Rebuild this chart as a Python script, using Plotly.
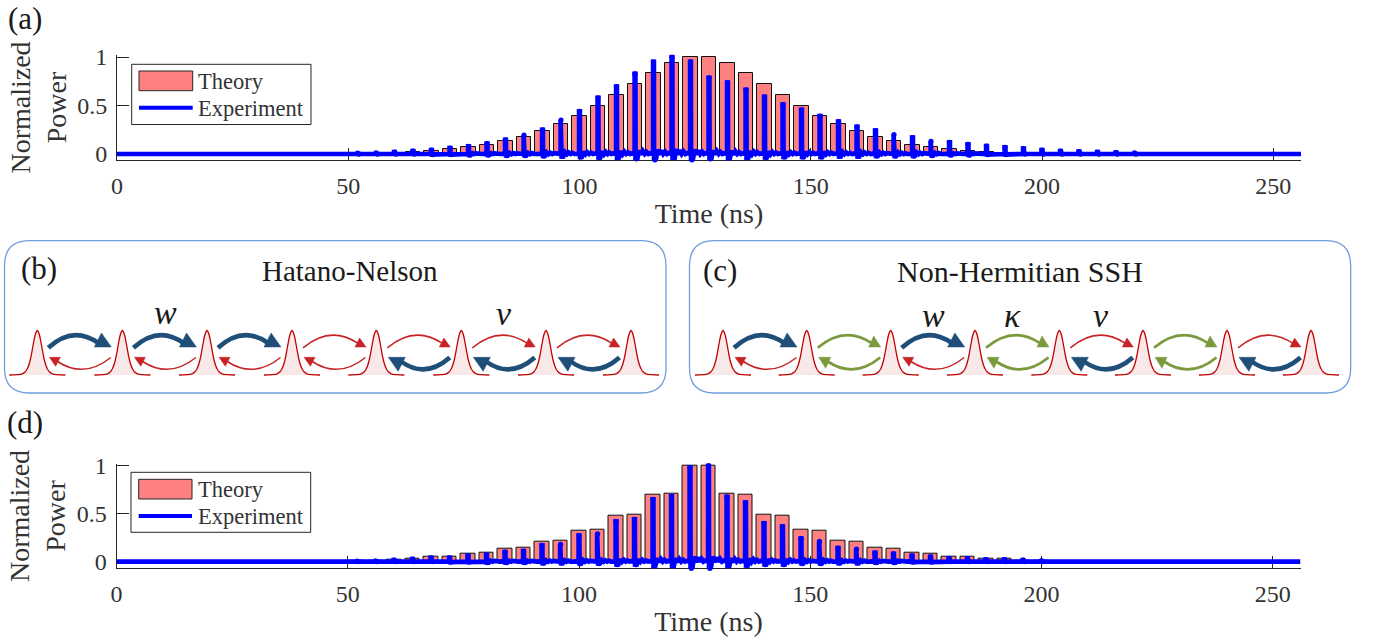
import plotly.graph_objects as go

W, H = 1377, 644
SERIF = "Liberation Serif"
TXT = "#333333"

# ---------- panel (a) data ----------
a_times = [52, 56, 60, 64, 68, 72, 76, 80, 84, 88, 92, 96, 100, 104, 108, 112, 116, 120, 124, 128,
           132, 136, 140, 144, 148, 152, 156, 160, 164, 168, 172, 176, 180, 184, 188, 192, 196,
           200, 204, 208, 212, 216, 220]
a_theory = [0.006, 0.01, 0.015, 0.024, 0.034, 0.048, 0.069, 0.096, 0.13, 0.18, 0.234, 0.306, 0.39, 0.49, 0.605, 0.725, 0.84, 0.94, 1.0, 1.0,
            0.94, 0.84, 0.725, 0.605, 0.49, 0.39, 0.306, 0.234, 0.18, 0.13, 0.096, 0.069, 0.048, 0.034, 0.024, 0.015, 0.01,
            0.006, 0.0, 0.0, 0.0, 0.0, 0.0]
a_peak = [0.008, 0.012, 0.02, 0.03, 0.04, 0.06, 0.08, 0.107, 0.145, 0.196, 0.25, 0.35, 0.44, 0.58, 0.695, 0.825, 0.95, 1.0, 0.95, 0.785,
          0.735, 0.66, 0.59, 0.51, 0.455, 0.39, 0.335, 0.28, 0.24, 0.2, 0.17, 0.13, 0.12, 0.10, 0.082, 0.068, 0.055,
          0.04, 0.03, 0.025, 0.02, 0.015, 0.012]
a_dip = [0.0, 0.0, 0.0, 0.0, 0.005, 0.005, 0.01, 0.01, 0.015, 0.015, 0.02, 0.025, 0.03, 0.035, 0.04, 0.05, 0.06, 0.065, 0.06, 0.05,
         0.045, 0.04, 0.035, 0.03, 0.03, 0.03, 0.025, 0.025, 0.02, 0.02, 0.02, 0.015, 0.01, 0.01, 0.005, 0.005, 0.0,
         0.0, 0.0, 0.0, 0.0, 0.0, 0.0]

# ---------- panel (d) data ----------
d_times = [52, 56, 60, 64, 68, 72, 76, 80, 84, 88, 92, 96, 100, 104, 108, 112, 116, 120, 124, 128,
           132, 136, 140, 144, 148, 152, 156, 160, 164, 168, 172, 176, 180, 184, 188, 192, 196, 200]
d_theory = [0.006, 0.012, 0.02, 0.033, 0.05, 0.054, 0.085, 0.09, 0.134, 0.14, 0.21, 0.22, 0.32, 0.328, 0.478, 0.488, 0.70, 0.707, 1.0, 1.0,
            0.707, 0.70, 0.488, 0.478, 0.328, 0.32, 0.22, 0.21, 0.14, 0.13, 0.09, 0.085, 0.052, 0.05, 0.035, 0.03, 0.012, 0.006]
d_peak = [0.005, 0.008, 0.015, 0.025, 0.04, 0.04, 0.06, 0.07, 0.10, 0.11, 0.17, 0.18, 0.27, 0.29, 0.42, 0.44, 0.65, 0.68, 0.98, 1.0,
          0.675, 0.615, 0.40, 0.365, 0.24, 0.21, 0.14, 0.13, 0.09, 0.08, 0.06, 0.05, 0.035, 0.03, 0.02, 0.02, 0.015, 0.01]
d_dip = [0.0, 0.0, 0.0, 0.0, 0.0, 0.005, 0.005, 0.01, 0.01, 0.01, 0.015, 0.015, 0.02, 0.02, 0.03, 0.03, 0.045, 0.045, 0.07, 0.07,
         0.045, 0.04, 0.03, 0.03, 0.02, 0.02, 0.015, 0.015, 0.01, 0.01, 0.005, 0.005, 0.0, 0.0, 0.0, 0.0, 0.0, 0.0]

END_TIME = 256
x_ticks = [0, 50, 100, 150, 200, 250]
y_ticks = [0, 0.5, 1]
y_labels = ["0", "0.5", "1"]

# ringing after each pulse: offsets (ns) and share of the pulse's dip depth
ring_dt = [0.12, 0.5, 0.9, 1.3, 1.7, 2.1, 2.5, 2.9, 3.3]
ring_share = [-1.0, -1.0, 0.75, -0.1, 0.6, 0.0, 0.4, 0.0, 0.15]

# ---------- schematic data ----------
b_sites = [37.3, 122.4, 207, 292, 376.3, 461.3, 546, 631]
c_sites = [723, 806.7, 890.7, 975, 1059.3, 1143, 1227, 1311]
b_bonds = [("blue", "red"), ("blue", "red"), ("blue", "red"), ("red", "red"), ("red", "blue"), ("red", "blue"), ("red", "blue")]
c_bonds = [("blue", "red"), ("green", "green"), ("blue", "red"), ("green", "green"), ("red", "blue"), ("green", "green"), ("red", "blue")]
site_dx = [-28, -20, -15, -12, -10, -8, -6, -4, -2, 0, 2, 4, 6, 8, 10, 12, 15, 20, 28]
site_h = [0, 0.3, 1.2, 3.2, 6.2, 11.5, 20, 31, 40.5, 44.5, 40.5, 31, 20, 11.5, 6.2, 3.2, 1.2, 0.3, 0]
ARROW = {
    "blue": dict(color="#1f4e79", width=4.6, tw=17, th=14),
    "red": dict(color="#c62326", width=1.5, tw=11, th=9),
    "green": dict(color="#7b9a3e", width=2.8, tw=12, th=11),
}


def trace_path(times, peaks, dips):
    xs, ys = [0], [0]
    for t, p, d in zip(times, peaks, dips):
        xs += [t - 0.08, t - 0.08, t + 0.08]
        ys += [0, p, p]
        for dt, share in zip(ring_dt, ring_share):
            xs.append(t + dt)
            ys.append(d * share)
    xs.append(END_TIME)
    ys.append(0)
    return xs, ys


fig = go.Figure()

for idx, (times, theory, peak, dip) in enumerate([(a_times, a_theory, a_peak, a_dip),
                                                    (d_times, d_theory, d_peak, d_dip)]):
    ax = "" if idx == 0 else "2"
    fig.add_trace(go.Bar(x=times, y=theory, width=3.24, name="Theory", showlegend=False,
                         marker=dict(color="#ff8080", line=dict(color="#111111", width=1)),
                         cliponaxis=False, xaxis="x" + ax, yaxis="y" + ax))
    xs, ys = trace_path(times, peak, dip)
    fig.add_trace(go.Scatter(x=xs, y=ys, mode="lines", name="Experiment", showlegend=False,
                             line=dict(color="#0000ff", width=4.7), cliponaxis=False,
                             xaxis="x" + ax, yaxis="y" + ax))
    # round tips of the spikes and of the ringing dips
    fig.add_trace(go.Scatter(x=times, y=peak, mode="markers", name="Experiment peaks", showlegend=False,
                             marker=dict(color="#0000ff", size=5.2), cliponaxis=False,
                             xaxis="x" + ax, yaxis="y" + ax))
    fig.add_trace(go.Scatter(x=[t + 0.3 for t in times], y=[-d for d in dip], mode="markers",
                             name="Experiment dips", showlegend=False,
                             marker=dict(color="#0000ff", size=5.4), cliponaxis=False,
                             xaxis="x" + ax, yaxis="y" + ax))

# schematic sites on a full-figure pixel axis
for sites in (b_sites, c_sites):
    for s in sites:
        xx = [s + d for d in site_dx]
        yy = [375 - h for h in site_h]
        fig.add_trace(go.Scatter(x=xx, y=yy, mode="lines", fill="toself", fillcolor="#f9e8e8",
                                 line=dict(color="#c00000", width=1.3, shape="spline"),
                                 showlegend=False, xaxis="x3", yaxis="y3", hoverinfo="skip"))

shapes = []


def px(**k):
    k.update(xref="x3", yref="y3")
    shapes.append(k)


def rounded(x0, x1, y0, y1, r):
    return (f"M {x0+r},{y0} L {x1-r},{y0} Q {x1},{y0} {x1},{y0+r} L {x1},{y1-r} Q {x1},{y1} {x1-r},{y1} "
            f"L {x0+r},{y1} Q {x0},{y1} {x0},{y1-r} L {x0},{y0+r} Q {x0},{y0} {x0+r},{y0} Z")


for x0, x1 in ((4.5, 666), (689.5, 1350.7)):
    px(type="path", path=rounded(x0, x1, 240.7, 393, 25), line=dict(color="#6f9fdc", width=1.3),
       fillcolor="rgba(0,0,0,0)")

for sites, bonds in ((b_sites, b_bonds), (c_sites, c_bonds)):
    for s, (top, bottom) in zip(sites, bonds):
        st = ARROW[top]
        tip = s + 74
        ex, ey = tip - st["tw"] * 0.75, 343.2
        sx, sy = s + 11, 347.8
        px(type="path", path=f"M {sx},{sy} Q {(sx+ex)/2},{325} {ex},{ey}", line=dict(color=st["color"], width=st["width"]))
        px(type="path", path=f"M {tip},347 L {tip-st['tw']},347 L {tip-st['tw']*0.58},{347-st['th']} Z",
           line=dict(color=st["color"], width=0.5), fillcolor=st["color"])
        st = ARROW[bottom]
        tip = s + 12
        ex, ey = tip + st["tw"] * 0.75, 361.5
        sx, sy = s + 73.5, 357.5
        px(type="path", path=f"M {sx},{sy} Q {(sx+ex)/2},{379} {ex},{ey}", line=dict(color=st["color"], width=st["width"]))
        px(type="path", path=f"M {tip},357.3 L {tip+st['tw']},357.3 L {tip+st['tw']*0.58},{357.3+st['th']} Z",
           line=dict(color=st["color"], width=0.5), fillcolor=st["color"])

# legends
for box, sw, ly in (((131.7, 311, 64.3, 124.5), (139, 192.7, 71, 90.7), 107.7),
                    ((131, 310.7, 472.3, 532.3), (138.7, 192, 479.3, 499), 516)):
    px(type="rect", x0=box[0], x1=box[1], y0=box[2], y1=box[3], line=dict(color="#262626", width=1), fillcolor="white")
    px(type="rect", x0=sw[0], x1=sw[1], y0=sw[2], y1=sw[3], line=dict(color="#262626", width=1), fillcolor="#ff8080")
    px(type="line", x0=sw[0], x1=sw[1], y0=ly, y1=ly, line=dict(color="#0000ff", width=4))


def label(x, y, text, size, anchor="center", color="#1a1a1a", italic=False):
    return dict(x=x, y=y, xref="x3", yref="y3", text=f"<i>{text}</i>" if italic else text, showarrow=False,
                font=dict(family=SERIF, size=size, color=color), xanchor=anchor, yanchor="middle", borderpad=0)


annotations = [
    label(7, 18, "(a)", 31, "left"),
    label(20, 268, "(b)", 31, "left"),
    label(702, 270, "(c)", 31, "left"),
    label(6, 422, "(d)", 31, "left"),
    label(350, 271, "Hatano-Nelson", 29),
    label(1020, 271, "Non-Hermitian SSH", 30),
    label(165, 312, "w", 34, italic=True),
    label(504, 313, "v", 34, italic=True),
    label(933, 315, "w", 34, italic=True),
    label(1012, 315, "κ", 34, italic=True),
    label(1101, 315, "v", 34, italic=True),
    label(197, 81.5, "Theory", 22.5, "left", TXT),
    label(197, 108.5, "Experiment", 22.5, "left", TXT),
    label(196.5, 489.5, "Theory", 22.5, "left", TXT),
    label(196.5, 516.5, "Experiment", 22.5, "left", TXT),
]


def xaxis(left, right, anchor):
    return dict(domain=[left / W, right / W], range=[0, END_TIME], anchor=anchor, tickvals=x_ticks,
                ticks="inside", ticklen=12, tickwidth=1, tickcolor="#262626", showline=True, linecolor="#262626",
                linewidth=1, showgrid=False, zeroline=False, layer="below traces", ticklabelstandoff=4,
                automargin=False,
                tickfont=dict(family=SERIF, size=24, color=TXT),
                title=dict(text="Time (ns)", font=dict(family=SERIF, size=28, color=TXT), standoff=5))


def yaxis(top, bottom, low, high, anchor):
    return dict(domain=[(H - bottom) / H, (H - top) / H], range=[low, high], anchor=anchor, tickvals=y_ticks, ticktext=y_labels,
                ticks="inside", ticklen=12, tickwidth=1, tickcolor="#262626", showline=True, linecolor="#262626",
                linewidth=1, showgrid=False, zeroline=False, layer="below traces", ticklabelstandoff=4,
                automargin=False,
                tickfont=dict(family=SERIF, size=24, color=TXT),
                title=dict(text="Normalized<br>Power", font=dict(family=SERIF, size=28, color=TXT), standoff=2))


fig.update_layout(
    width=W, height=H, margin=dict(l=0, r=0, t=0, b=0, autoexpand=False), paper_bgcolor="white",
    plot_bgcolor="rgba(0,0,0,0)",
    showlegend=False, bargap=0, shapes=shapes, annotations=annotations,
    xaxis=xaxis(117, 1301, "y"), yaxis=yaxis(55, 160, -0.062, 1.0206, "x"),
    xaxis2=xaxis(116.5, 1300.5, "y2"), yaxis2=yaxis(463.7, 568.3, -0.07, 1.0208, "x2"),
    xaxis3=dict(domain=[0, 1], range=[0, W], visible=False, anchor="y3", fixedrange=True),
    yaxis3=dict(domain=[0, 1], range=[H, 0], visible=False, anchor="x3", fixedrange=True),
)

fig.write_html("out.html", config=dict(displayModeBar=False),
               post_script="document.body.style.margin='0';document.body.style.overflow='hidden';")
